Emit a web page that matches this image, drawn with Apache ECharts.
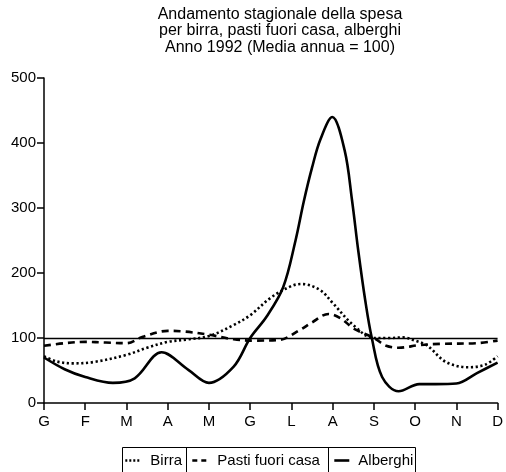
<!DOCTYPE html>
<html>
<head>
<meta charset="utf-8">
<script src="https://cdn.jsdelivr.net/npm/echarts@6/dist/echarts.min.js"></script>
<style>
html,body{margin:0;padding:0;background:#fff;}
#chart{width:506px;height:472px;}
</style>
</head>
<body>
<div id="chart"></div>
<script>
// Month tick labels (Italian initials)
const months = ['G','F','M','A','M','G','L','A','S','O','N','D'];
const yTicks = [0, 100, 200, 300, 400, 500];

// Birra (dotted) – x in month units, y index
const birraX = [0, 0.3, 0.7, 1.2, 2, 2.5, 3, 3.5, 4, 4.6, 5, 5.5, 6, 6.25, 6.69, 7, 7.5, 8, 8.4, 8.7, 9, 9.3, 9.75, 10.3, 10.7, 11];
const birraY = [72, 64, 61, 63, 74, 85, 94, 98, 103, 120, 135, 162, 180, 183, 174, 154, 120, 100, 100, 101, 96, 88, 63, 55, 59, 72];

// Pasti fuori casa (dashed)
const pastiX = [0, 0.5, 1, 1.5, 2, 2.4, 3, 3.4, 4, 4.6, 5.1, 5.7, 6.2, 6.5, 6.9, 7.2, 7.5, 8, 8.3, 8.6, 9.1, 9.6, 10.5, 11];
const pastiY = [88, 92, 94, 93, 92, 102, 111, 110, 105, 98, 96, 97, 112, 124, 137, 130, 115, 100, 88, 85, 89, 91, 92, 96];

// Alberghi (solid)
const albX = [0, 0.5, 1, 1.67, 2.2, 2.85, 3.5, 4, 4.6, 5, 5.4, 5.8, 6.1, 6.3, 6.5, 6.7, 6.99, 7.29, 7.47, 7.62, 7.79, 7.95, 8.2, 8.6, 9.1, 9.5, 10, 10.5, 11];
const albY = [70, 52, 40, 31, 38, 78, 51, 31, 56, 100, 133, 178, 250, 310, 362, 405, 440, 389, 312, 235, 158, 100, 40, 18, 29, 29, 30, 46, 62];

const pts = (xs, ys) => xs.map((x, i) => [x, ys[i]]);

const chart = echarts.init(document.getElementById('chart'), null, {renderer: 'canvas'});
const FONT = 'Liberation Sans, Arial, Helvetica, sans-serif';
const legendCommon = {
  itemWidth: 15, itemHeight: 14, itemGap: 0, padding: 0, top: 453,
  itemStyle: {color: 'rgba(0,0,0,0)', borderWidth: 0, opacity: 0},
  lineStyle: {width: 2.6}
};

chart.setOption({
  animation: false,
  backgroundColor: '#fff',
  title: {
    text: 'Andamento stagionale della spesa\nper birra, pasti fuori casa, alberghi\nAnno 1992 (Media annua = 100)',
    left: 280,
    top: 6,
    textAlign: 'center',
    padding: 0,
    textStyle: {fontFamily: FONT, fontSize: 16, fontWeight: 'normal', color: '#000', lineHeight: 16.5, align: 'center'}
  },
  grid: {left: 44, right: 8, top: 78, bottom: 69, containLabel: false},
  xAxis: {
    type: 'value', min: 0, max: 11, interval: 1,
    axisLine: {show: true, lineStyle: {color: '#000', width: 1.5}},
    axisTick: {show: true, length: 7, lineStyle: {color: '#000', width: 1.5}},
    axisLabel: {formatter: v => months[v], color: '#000', fontFamily: FONT, fontSize: 15, margin: 11},
    splitLine: {show: false}
  },
  yAxis: {
    type: 'value', min: 0, max: 500, interval: 100,
    axisLine: {show: true, lineStyle: {color: '#000', width: 1.5}},
    axisTick: {show: true, length: 7, lineStyle: {color: '#000', width: 1.5}},
    axisLabel: {formatter: v => (yTicks.indexOf(v) >= 0 ? String(v) : ''), color: '#000', fontFamily: FONT, fontSize: 15, margin: 8},
    splitLine: {show: false}
  },
  legend: [
    Object.assign({}, legendCommon, {data: ['Birra'], left: 124,
      lineStyle: {width: 2.6, type: [2, 2]},
      textStyle: {fontFamily: FONT, fontSize: 15, color: '#000', padding: [0, 0, 0, 5]}}),
    Object.assign({}, legendCommon, {data: ['Pasti fuori casa'], left: 191, itemWidth: 14,
      lineStyle: {width: 2.6, type: [5, 4]},
      textStyle: {fontFamily: FONT, fontSize: 15, color: '#000', padding: [0, 0, 0, 6]}}),
    Object.assign({}, legendCommon, {data: ['Alberghi'], left: 333,
      textStyle: {fontFamily: FONT, fontSize: 15, color: '#000', padding: [0, 0, 0, 4]}})
  ],
  graphic: [
    {type: 'rect', shape: {x: 122.5, y: 447.5, width: 293, height: 40}, style: {fill: 'none', stroke: '#000', lineWidth: 1}, silent: true},
    {type: 'line', shape: {x1: 186.5, y1: 447.5, x2: 186.5, y2: 490}, style: {stroke: '#000', lineWidth: 1}, silent: true},
    {type: 'line', shape: {x1: 328.5, y1: 447.5, x2: 328.5, y2: 490}, style: {stroke: '#000', lineWidth: 1}, silent: true}
  ],
  series: [
    {
      name: 'Birra', type: 'line', data: pts(birraX, birraY), smooth: 0.35,
      symbol: 'none', showSymbol: false, color: '#000',
      lineStyle: {color: '#000', width: 2.6, type: [2.2, 2.6], cap: 'butt'},
      markLine: {
        silent: true, symbol: ['none', 'none'], label: {show: false},
        lineStyle: {color: '#000', width: 1.3, type: 'solid'},
        data: [{yAxis: 100}]
      }
    },
    {
      name: 'Pasti fuori casa', type: 'line', data: pts(pastiX, pastiY), smooth: 0.35,
      symbol: 'none', showSymbol: false, color: '#000',
      lineStyle: {color: '#000', width: 2.6, type: [7, 5], cap: 'butt'}
    },
    {
      name: 'Alberghi', type: 'line', data: pts(albX, albY), smooth: 0.35,
      symbol: 'none', showSymbol: false, color: '#000',
      lineStyle: {color: '#000', width: 2.6, type: 'solid'}
    }
  ]
});
</script>
</body>
</html>
